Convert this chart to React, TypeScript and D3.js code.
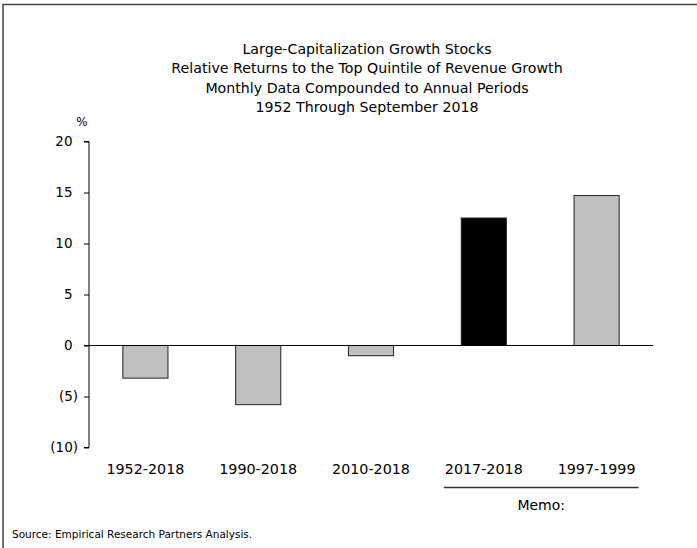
import React, { useEffect, useRef } from 'react';
import * as d3 from 'd3';

const periods = ['1952-2018', '1990-2018', '2010-2018', '2017-2018', '1997-1999'];
const relativeReturns = [-3.2, -5.8, -1.0, 12.5, 14.7];
const highlighted = ['2017-2018'];
const memoPeriods = ['2017-2018', '1997-1999'];
const yTicks = [-10, -5, 0, 5, 10, 15, 20];
const titleLines = [
 'Large-Capitalization Growth Stocks',
 'Relative Returns to the Top Quintile of Revenue Growth',
 'Monthly Data Compounded to Annual Periods',
 '1952 Through September 2018',
];

const App: React.FC = () => {
 const svgRef = useRef<SVGSVGElement>(null);

 useEffect(() => {
 if (!svgRef.current) return;
 const svg = d3.select(svgRef.current);
 svg.selectAll('*').remove();

 const font = '"DejaVu Sans", Verdana, sans-serif';
 const left = 89;
 const right = 653;

 const x = d3.scaleBand<string>().domain(periods).range([left, right]).paddingInner(0.6).paddingOuter(0.3);
 const y = d3.scaleLinear().domain([-10, 20]).range([447.5, 141.5]);

 // frame (top and left only)
 svg.append('path').attr('d', 'M3,548 V4.5 H697').attr('fill', 'none').attr('stroke', '#444').attr('stroke-width', 1.5);

 // title
 svg.append('g')
 .selectAll('text')
 .data(titleLines)
 .enter()
 .append('text')
 .attr('x', 367)
 .attr('y', (_d: string, i: number) => 54 + i * 19.3)
 .attr('text-anchor', 'middle')
 .attr('font-family', font)
 .attr('font-size', '14.2px')
 .attr('fill', '#000')
 .text((d: string) => d);

 svg.append('text').attr('x', 82).attr('y', 126).attr('text-anchor', 'middle')
 .attr('font-family', font).attr('font-size', '12px').text('%');

 // y axis, accounting style: negatives in parentheses hang past the digits
 const yAxis = d3.axisLeft(y)
 .tickValues(yTicks)
 .tickSize(5)
 .tickPadding(11.5)
 .tickFormat((d: d3.NumberValue) => {
 const v = +d;
 return v < 0 ? `(${Math.abs(v)})` : `${v}`;
 });
 const gy = svg.append('g').attr('transform', `translate(${left},0)`).call(yAxis);
 gy.selectAll('path, line').attr('stroke', '#000');
 gy.selectAll('text')
 .attr('font-family', font)
 .attr('font-size', '13.5px')
 .attr('fill', '#000')
 .attr('dx', (d: any) => (+d < 0 ? 5.5 : 0));
 gy.select('.domain').attr('d', `M-5,${y(20)}H0V${y(-10)}H-5`);

 // bars
 svg.append('g')
 .selectAll('rect')
 .data(periods)
 .enter()
 .append('rect')
 .attr('x', (d: string) => x(d) as number)
 .attr('width', x.bandwidth())
 .attr('y', (_d: string, i: number) => y(Math.max(0, relativeReturns[i])))
 .attr('height', (_d: string, i: number) => Math.abs(y(relativeReturns[i]) - y(0)))
 .attr('fill', (d: string) => (highlighted.includes(d) ? '#000' : '#c0c0c0'))
 .attr('stroke', '#222')
 .attr('stroke-width', 1);

 // zero line
 svg.append('line').attr('x1', left - 5).attr('x2', right).attr('y1', y(0)).attr('y2', y(0))
 .attr('stroke', '#000').attr('stroke-width', 1);

 // category labels
 svg.append('g')
 .selectAll('text')
 .data(periods)
 .enter()
 .append('text')
 .attr('x', (d: string) => (x(d) as number) + x.bandwidth() / 2)
 .attr('y', 474)
 .attr('text-anchor', 'middle')
 .attr('font-family', font)
 .attr('font-size', '14.3px')
 .text((d: string) => d);

 // memo bracket
 const memoStart = (x(memoPeriods[0]) as number) + x.bandwidth() / 2 - 40;
 const memoEnd = (x(memoPeriods[memoPeriods.length - 1]) as number) + x.bandwidth() / 2 + 42;
 svg.append('line').attr('x1', memoStart).attr('x2', memoEnd).attr('y1', 487.5).attr('y2', 487.5)
 .attr('stroke', '#333').attr('stroke-width', 1.3);
 svg.append('text').attr('x', (memoStart + memoEnd) / 2).attr('y', 510).attr('text-anchor', 'middle')
 .attr('font-family', font).attr('font-size', '14px').text('Memo:');

 svg.append('text').attr('x', 12).attr('y', 538)
 .attr('font-family', font).attr('font-size', '10.5px').text('Source: Empirical Research Partners Analysis.');
 }, []);

 return (
 <svg
 ref={svgRef}
 width={697}
 height={548}
 viewBox="0 0 697 548"
 style={{ position: 'absolute', left: 0, top: 0, background: '#fff' }}
 />
 );
};

export default App;
